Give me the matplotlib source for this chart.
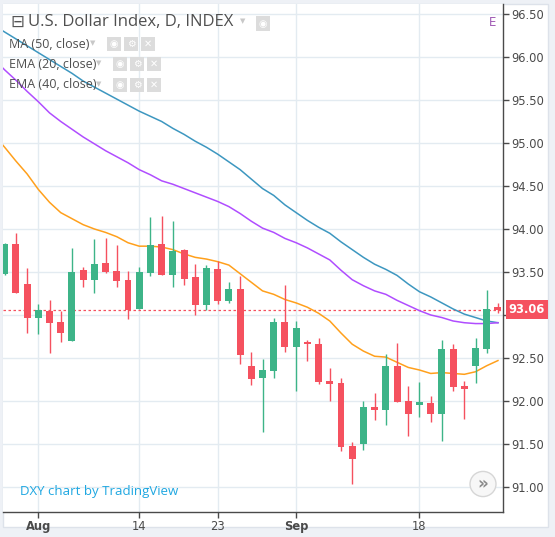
import matplotlib
matplotlib.use("Agg")
import matplotlib.pyplot as plt
from matplotlib.patches import Rectangle, Circle

# --- daily bars (DXY, 2017) ---
dates = ["Jul 27", "Jul 28", "Jul 31", "Aug 1", "Aug 2", "Aug 3", "Aug 4",
         "Aug 7", "Aug 8", "Aug 9", "Aug 10", "Aug 11", "Aug 14", "Aug 15",
         "Aug 16", "Aug 17", "Aug 18", "Aug 21", "Aug 22", "Aug 23", "Aug 24",
         "Aug 25", "Aug 28", "Aug 29", "Aug 30", "Aug 31", "Sep 1", "Sep 4",
         "Sep 5", "Sep 6", "Sep 7", "Sep 8", "Sep 11", "Sep 12", "Sep 13",
         "Sep 14", "Sep 15", "Sep 18", "Sep 19", "Sep 20", "Sep 21", "Sep 22",
         "Sep 25", "Sep 26", "Sep 27"]
opens = [93.48, 93.83, 93.36, 92.97, 93.05, 92.92, 92.70, 93.52, 93.41, 93.60,
         93.51, 93.41, 93.07, 93.49, 93.83, 93.46, 93.76, 93.44, 93.12, 93.54,
         93.16, 93.30, 92.41, 92.27, 92.35, 92.92, 92.63, 92.68, 92.66, 92.23,
         92.21, 91.48, 91.50, 91.93, 91.89, 92.41, 92.00, 91.95, 91.98, 91.85,
         92.61, 92.17, 92.41, 92.61, 93.09]
highs = [93.84, 93.95, 93.55, 93.13, 93.17, 93.05, 93.78, 93.56, 93.88, 93.90,
         93.81, 93.51, 93.56, 94.14, 94.15, 94.09, 93.77, 93.59, 93.58, 93.63,
         93.38, 93.45, 92.57, 92.49, 92.96, 93.35, 92.93, 92.71, 92.73, 92.38,
         92.27, 91.52, 92.00, 92.09, 92.55, 92.67, 92.17, 92.22, 92.06, 92.71,
         92.66, 92.23, 92.73, 93.29, 93.14]
lows = [93.47, 93.26, 92.79, 92.78, 92.56, 92.69, 92.70, 93.32, 93.25, 93.49,
        93.33, 92.95, 93.07, 93.45, 93.46, 93.33, 93.35, 93.00, 93.06, 93.13,
        93.14, 92.43, 92.18, 91.64, 92.27, 92.57, 92.12, 92.46, 92.20, 92.00,
        91.42, 91.03, 91.43, 91.78, 91.72, 91.99, 91.59, 91.81, 91.76, 91.54,
        92.12, 91.79, 92.21, 92.56, 93.02]
closes = [93.83, 93.26, 92.96, 93.06, 92.91, 92.79, 93.50, 93.41, 93.59, 93.50,
          93.40, 93.06, 93.50, 93.81, 93.46, 93.74, 93.42, 93.12, 93.55, 93.16,
          93.30, 92.53, 92.26, 92.36, 92.92, 92.63, 92.85, 92.66, 92.22, 92.20,
          91.47, 91.33, 91.93, 91.89, 92.41, 91.99, 91.85, 91.99, 91.85, 92.61,
          92.16, 92.14, 92.62, 93.07, 93.06]

# --- studies, starting one bar earlier (Jul 26) ---
study_dates = ["Jul 26"] + dates
ma50 = [96.37, 96.29, 96.21, 96.13, 96.05, 95.97, 95.89, 95.81, 95.72, 95.65,
        95.58, 95.51, 95.44, 95.37, 95.31, 95.25, 95.17, 95.10, 95.02, 94.95,
        94.87, 94.78, 94.69, 94.58, 94.47, 94.39, 94.28, 94.19, 94.10, 94.02,
        93.95, 93.85, 93.76, 93.67, 93.59, 93.53, 93.46, 93.36, 93.27, 93.21,
        93.14, 93.07, 93.01, 92.97, 92.93, 92.91]
ema40 = [95.98, 95.85, 95.73, 95.60, 95.48, 95.35, 95.25, 95.16, 95.07, 94.99,
         94.91, 94.84, 94.77, 94.69, 94.63, 94.56, 94.52, 94.47, 94.42, 94.37,
         94.32, 94.26, 94.18, 94.09, 94.01, 93.96, 93.89, 93.84, 93.78, 93.71,
         93.64, 93.52, 93.41, 93.34, 93.28, 93.24, 93.17, 93.11, 93.05, 93.00,
         92.97, 92.93, 92.91, 92.90, 92.90, 92.91]
ema20 = [95.10, 94.95, 94.79, 94.64, 94.46, 94.31, 94.19, 94.12, 94.05, 94.00,
         93.96, 93.91, 93.84, 93.80, 93.80, 93.79, 93.76, 93.71, 93.67, 93.65,
         93.62, 93.58, 93.48, 93.38, 93.28, 93.24, 93.18, 93.14, 93.09, 93.02,
         92.93, 92.79, 92.66, 92.58, 92.52, 92.51, 92.45, 92.39, 92.36, 92.32,
         92.33, 92.32, 92.31, 92.34, 92.41, 92.47]

tick_dates = ["Aug 1", "Aug 14", "Aug 23", "Sep 1", "Sep 18"]
tick_labels = ["Aug", "14", "23", "Sep", "18"]
price_ticks = [91.0, 91.5, 92.0, 92.5, 93.0, 93.5, 94.0, 94.5, 95.0, 95.5, 96.0, 96.5]
last_price = 93.06

green = "#3db488"
red = "#f5515f"
grid_col = "#e3ebf1"
text_col = "#4a4a4a"

W, H = 555, 537
fig = plt.figure(figsize=(W / 100, H / 100), dpi=100)
fig.patch.set_facecolor("#eef1f6")


def fx(x):
    return x / W


def fy(y):
    return 1 - y / H


# white chart frame, behind the axes
frame = Rectangle((fx(3), fy(527)), 545 / W, 523 / H, transform=fig.transFigure,
                  facecolor="white", edgecolor="#dde2ea", lw=1, zorder=-5)
fig.patches.append(frame)

ax = fig.add_axes([fx(3), fy(512), 500 / W, 508 / H])
ax.set_facecolor("white")

pos = {d: i for i, d in enumerate(dates)}
xs = list(range(len(dates)))
sx = [pos[d] if d in pos else pos[dates[0]] - 1 for d in study_dates]

# grid
for p in price_ticks:
    ax.axhline(p, color=grid_col, lw=1, zorder=0)
for d in tick_dates:
    ax.axvline(pos[d], color=grid_col, lw=1, zorder=0)

# studies
ax.plot(sx, ma50, color="#3d97c0", lw=1.1, zorder=2)
ax.plot(sx, ema40, color="#b04dff", lw=1.1, zorder=2)
ax.plot(sx, ema20, color="#ffa01c", lw=1.1, zorder=2)

# candles
bw = 0.62
for x, o, h, l, c in zip(xs, opens, highs, lows, closes):
    col = green if c >= o else red
    ax.vlines(x, l, h, color=col, lw=1, zorder=3)
    lo, hi = min(o, c), max(o, c)
    ax.add_patch(Rectangle((x - bw / 2, lo), bw, max(hi - lo, 0.025),
                           facecolor=col, edgecolor="none", zorder=4))

# last price line
ax.axhline(last_price, color=red, lw=0.9, ls=(0, (2, 2)), zorder=1)

ax.set_xlim(-0.15, 44.45)
ax.set_ylim(90.709, 96.616)

for s in ["left", "top"]:
    ax.spines[s].set_visible(False)
for s in ["right", "bottom"]:
    ax.spines[s].set_color(text_col)
    ax.spines[s].set_linewidth(1)

ax.yaxis.tick_right()
ax.set_yticks(price_ticks)
# the 93.00 label sits under the last-price tag
ax.set_yticklabels(["" if abs(p - last_price) < 0.1 else f"{p:.2f}" for p in price_ticks])
ax.tick_params(axis="y", length=4, width=1, color=text_col, labelcolor=text_col,
               labelsize=8.3, pad=2)
ax.set_xticks([pos[d] for d in tick_dates])
ax.set_xticklabels(tick_labels)
ax.tick_params(axis="x", length=4, width=1, color=text_col, labelcolor=text_col,
               labelsize=8.3, pad=2)
for lab in ax.get_xticklabels():
    if lab.get_text() in ("Aug", "Sep"):
        lab.set_fontweight("bold")

# price tag
ax.annotate(f"{last_price:.2f}", xy=(1.0, last_price), xycoords=("axes fraction", "data"),
            xytext=(4, 0), textcoords="offset points", va="center", ha="left",
            fontsize=8.3, color="white", fontweight="bold",
            bbox=dict(boxstyle="square,pad=0.25", fc=red, ec="none"), zorder=6)

# header texts
fig.text(fx(10), fy(22), "\u229f", fontsize=12, color="#555555", va="center", ha="left")
fig.text(fx(28), fy(22), "U.S. Dollar Index, D, INDEX", fontsize=12, color="#4f4f4f",
         va="center", ha="left", family="Open Sans")
fig.text(fx(243), fy(21), "\u25bc", fontsize=5, color="#c8c8c8", va="center", ha="center")
fig.patches.append(Rectangle((fx(256), fy(31)), 14 / W, 15 / H, transform=fig.transFigure,
                             facecolor="#dcdcdc", edgecolor="none"))
fig.text(fx(263), fy(23.5), "\u25c9", fontsize=7, color="white", va="center", ha="center")

legend_rows = [("MA (50, close)", 44, 93), ("EMA (20, close)", 64, 99), ("EMA (40, close)", 85, 99)]
for label, yc, tri in legend_rows:
    fig.text(fx(9), fy(yc), label, fontsize=9, color="#4f4f4f", va="center", ha="left",
             family="Open Sans")
    fig.text(fx(tri), fy(yc - 1), "\u25bc", fontsize=5, color="#c8c8c8", va="center", ha="center")
    for k, glyph in enumerate(["\u25c9", "\u2699", "\u2715"]):
        x0 = tri + 14 + k * 17
        fig.patches.append(Rectangle((fx(x0), fy(yc + 7)), 14 / W, 14 / H,
                                     transform=fig.transFigure, facecolor="#dcdcdc",
                                     edgecolor="none"))
        fig.text(fx(x0 + 7), fy(yc), glyph, fontsize=7, color="white", va="center", ha="center")

fig.text(fx(493), fy(23), "E", fontsize=8.5, color="#a05ab4", va="center", ha="center")

# watermark and scroll button
fig.text(fx(20), fy(492), "DXY chart by TradingView", fontsize=9.5, color="#1ea7e1",
         va="center", ha="left", family="Open Sans")
fig.patches.append(Circle((fx(483), fy(484)), 13 / W, transform=fig.transFigure,
                          facecolor="#f7f7f7", edgecolor="#d6d6d6", lw=1, zorder=5))
fig.text(fx(483), fy(484.5), "\u00bb", fontsize=12, color="#8a8a8a", va="center", ha="center",
         fontweight="bold", zorder=6)

fig.savefig("out.png", dpi=100)
